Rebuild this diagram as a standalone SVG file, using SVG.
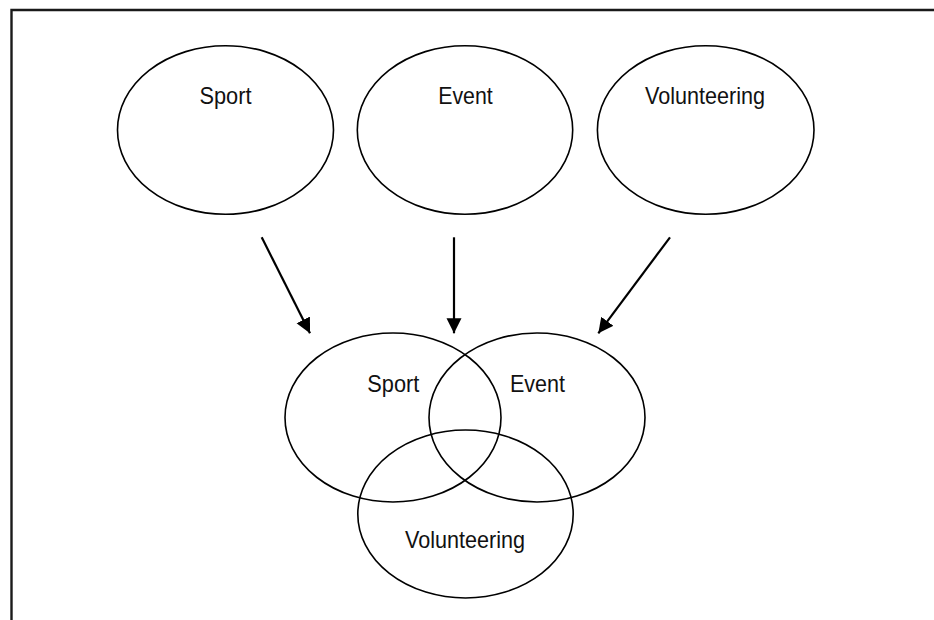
<svg xmlns="http://www.w3.org/2000/svg" width="934" height="620" viewBox="0 0 934 620">
<style>
.node ellipse{fill:none;stroke:#000;stroke-width:1.6}
.node text{font-family:"Liberation Sans",Arial,sans-serif;font-size:24px;fill:#111;text-anchor:middle}
.conn line{stroke:#000;stroke-width:2.2}
.frame{fill:none;stroke:#1a1a1a;stroke-width:2.4}
</style>
<defs>
<marker id="ah" markerUnits="userSpaceOnUse" markerWidth="16" markerHeight="16" viewBox="0 0 16 16" refX="15" refY="8" orient="auto">
<path d="M0,0.5 L15,8 L0,15.5 Z" fill="#000"/>
</marker>
</defs>
<rect width="934" height="620" fill="#fff"/>
<path class="frame" d="M11.5,620 V10 H934"/>
<g id="sport-top" class="node">
<ellipse cx="225.5" cy="130" rx="108" ry="84.3"/>
<text x="225.5" y="104.3" textLength="52" lengthAdjust="spacingAndGlyphs">Sport</text>
</g>
<g id="event-top" class="node">
<ellipse cx="465" cy="130" rx="107.7" ry="84.3"/>
<text x="465.5" y="104" textLength="54.5" lengthAdjust="spacingAndGlyphs">Event</text>
</g>
<g id="volunteering-top" class="node">
<ellipse cx="705.7" cy="130" rx="108.3" ry="84.3"/>
<text x="705" y="104" textLength="120" lengthAdjust="spacingAndGlyphs">Volunteering</text>
</g>
<g id="sport-venn" class="node">
<ellipse cx="393" cy="417.5" rx="108" ry="84.5"/>
<text x="393.3" y="391.7" textLength="52" lengthAdjust="spacingAndGlyphs">Sport</text>
</g>
<g id="event-venn" class="node">
<ellipse cx="537" cy="417.5" rx="108" ry="84.5"/>
<text x="537.5" y="391.7" textLength="55" lengthAdjust="spacingAndGlyphs">Event</text>
</g>
<g id="volunteering-venn" class="node">
<ellipse cx="465.5" cy="514" rx="107.7" ry="84"/>
<text x="465" y="547.5" textLength="120" lengthAdjust="spacingAndGlyphs">Volunteering</text>
</g>
<g id="connectors" class="conn">
<line x1="261.7" y1="237.3" x2="310" y2="333.3" marker-end="url(#ah)"/>
<line x1="454" y1="237.3" x2="454" y2="333.3" marker-end="url(#ah)"/>
<line x1="670" y1="237.3" x2="598.3" y2="333.3" marker-end="url(#ah)"/>
</g>
</svg>
